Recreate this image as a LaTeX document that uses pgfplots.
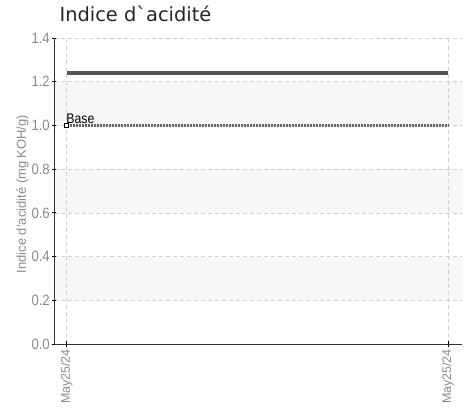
\documentclass[border=0pt]{standalone}
\usepackage{fontspec}
\setmainfont{Liberation Sans}
\newfontfamily\narrowfont{Liberation Sans}[FakeStretch=0.88]
\newfontfamily\titlefont{DejaVu Sans}
\usepackage{pgfplots}
\pgfplotsset{compat=1.18}
\definecolor{tickgray}{HTML}{8A8A8A}
\definecolor{gridgray}{HTML}{CFCFCF}
\definecolor{bandgray}{HTML}{F7F7F7}
\definecolor{linegray}{HTML}{555555}
\begin{document}
\begin{tikzpicture}
\begin{axis}[
    set layers,
    scale only axis,
    width=408bp, height=306bp,
    xmin=-0.0333, xmax=1.0367,
    ymin=0, ymax=1.4,
    axis x line=bottom, axis y line=left,
    axis line style={-, draw=black!80, line width=0.9pt},
    xtick={0,1},
    xticklabels={May25/24,May25/24},
    ytick={0,0.2,...,1.4},
    /pgf/number format/fixed,
    /pgf/number format/fixed zerofill,
    /pgf/number format/precision=1,
    /pgf/number format/assume math mode=true,
    tick align=center,
    major tick length=5bp,
    tick style={draw=black, line width=0.8pt},
    ticklabel style={text=tickgray},
    yticklabel style={font=\narrowfont\fontsize{15}{15}\selectfont, inner sep=1.5pt},
    xticklabel style={rotate=90, anchor=east, font=\fontsize{12.5}{12.5}\selectfont, inner sep=2.5pt},
    grid=major,
    major grid style={draw=gridgray, line width=0.6pt, dash pattern=on 4bp off 3bp},
    ylabel={Indice d`acidité (mg KOH/g)},
    ylabel style={font=\fontsize{13}{13}\selectfont, text=tickgray, at={(axis description cs:-0.062,0.49)}, anchor=south, inner sep=0pt},
    clip=false,
]
% alternating background bands
\addplot[on layer=axis background, fill=bandgray, draw=none] coordinates {(-0.0333,0.2) (1.0367,0.2) (1.0367,0.4) (-0.0333,0.4)} -- cycle;
\addplot[on layer=axis background, fill=bandgray, draw=none] coordinates {(-0.0333,0.6) (1.0367,0.6) (1.0367,0.8) (-0.0333,0.8)} -- cycle;
\addplot[on layer=axis background, fill=bandgray, draw=none] coordinates {(-0.0333,1.0) (1.0367,1.0) (1.0367,1.2) (-0.0333,1.2)} -- cycle;
% measured value
\addplot[linegray, line width=3.5bp, no marks] coordinates {(0,1.24) (1,1.24)};
% base line
\addplot[black!60, line width=2.5bp, dash pattern=on 2bp off 1bp, no marks] coordinates {(0,1.0) (1,1.0)};
\addplot[only marks, mark=square*, mark size=2bp, mark options={fill=white, draw=black, line width=0.8pt}] coordinates {(0,1.0)}
    node[pos=0, anchor=south west, inner sep=1pt, xshift=-1.5bp, yshift=0.5bp, font=\narrowfont\fontsize{14}{14}\selectfont] {Base};
\end{axis}
\node[anchor=base west, font=\titlefont\fontsize{19.5}{19.5}\selectfont, text=black!85] at ([shift={(2bp,16bp)}]current axis.north west) {Indice d`acidité};
\path ([shift={(-54bp,-69bp)}]current axis.south west) rectangle ([shift={(3bp,38bp)}]current axis.north east);
\end{tikzpicture}
\end{document}
